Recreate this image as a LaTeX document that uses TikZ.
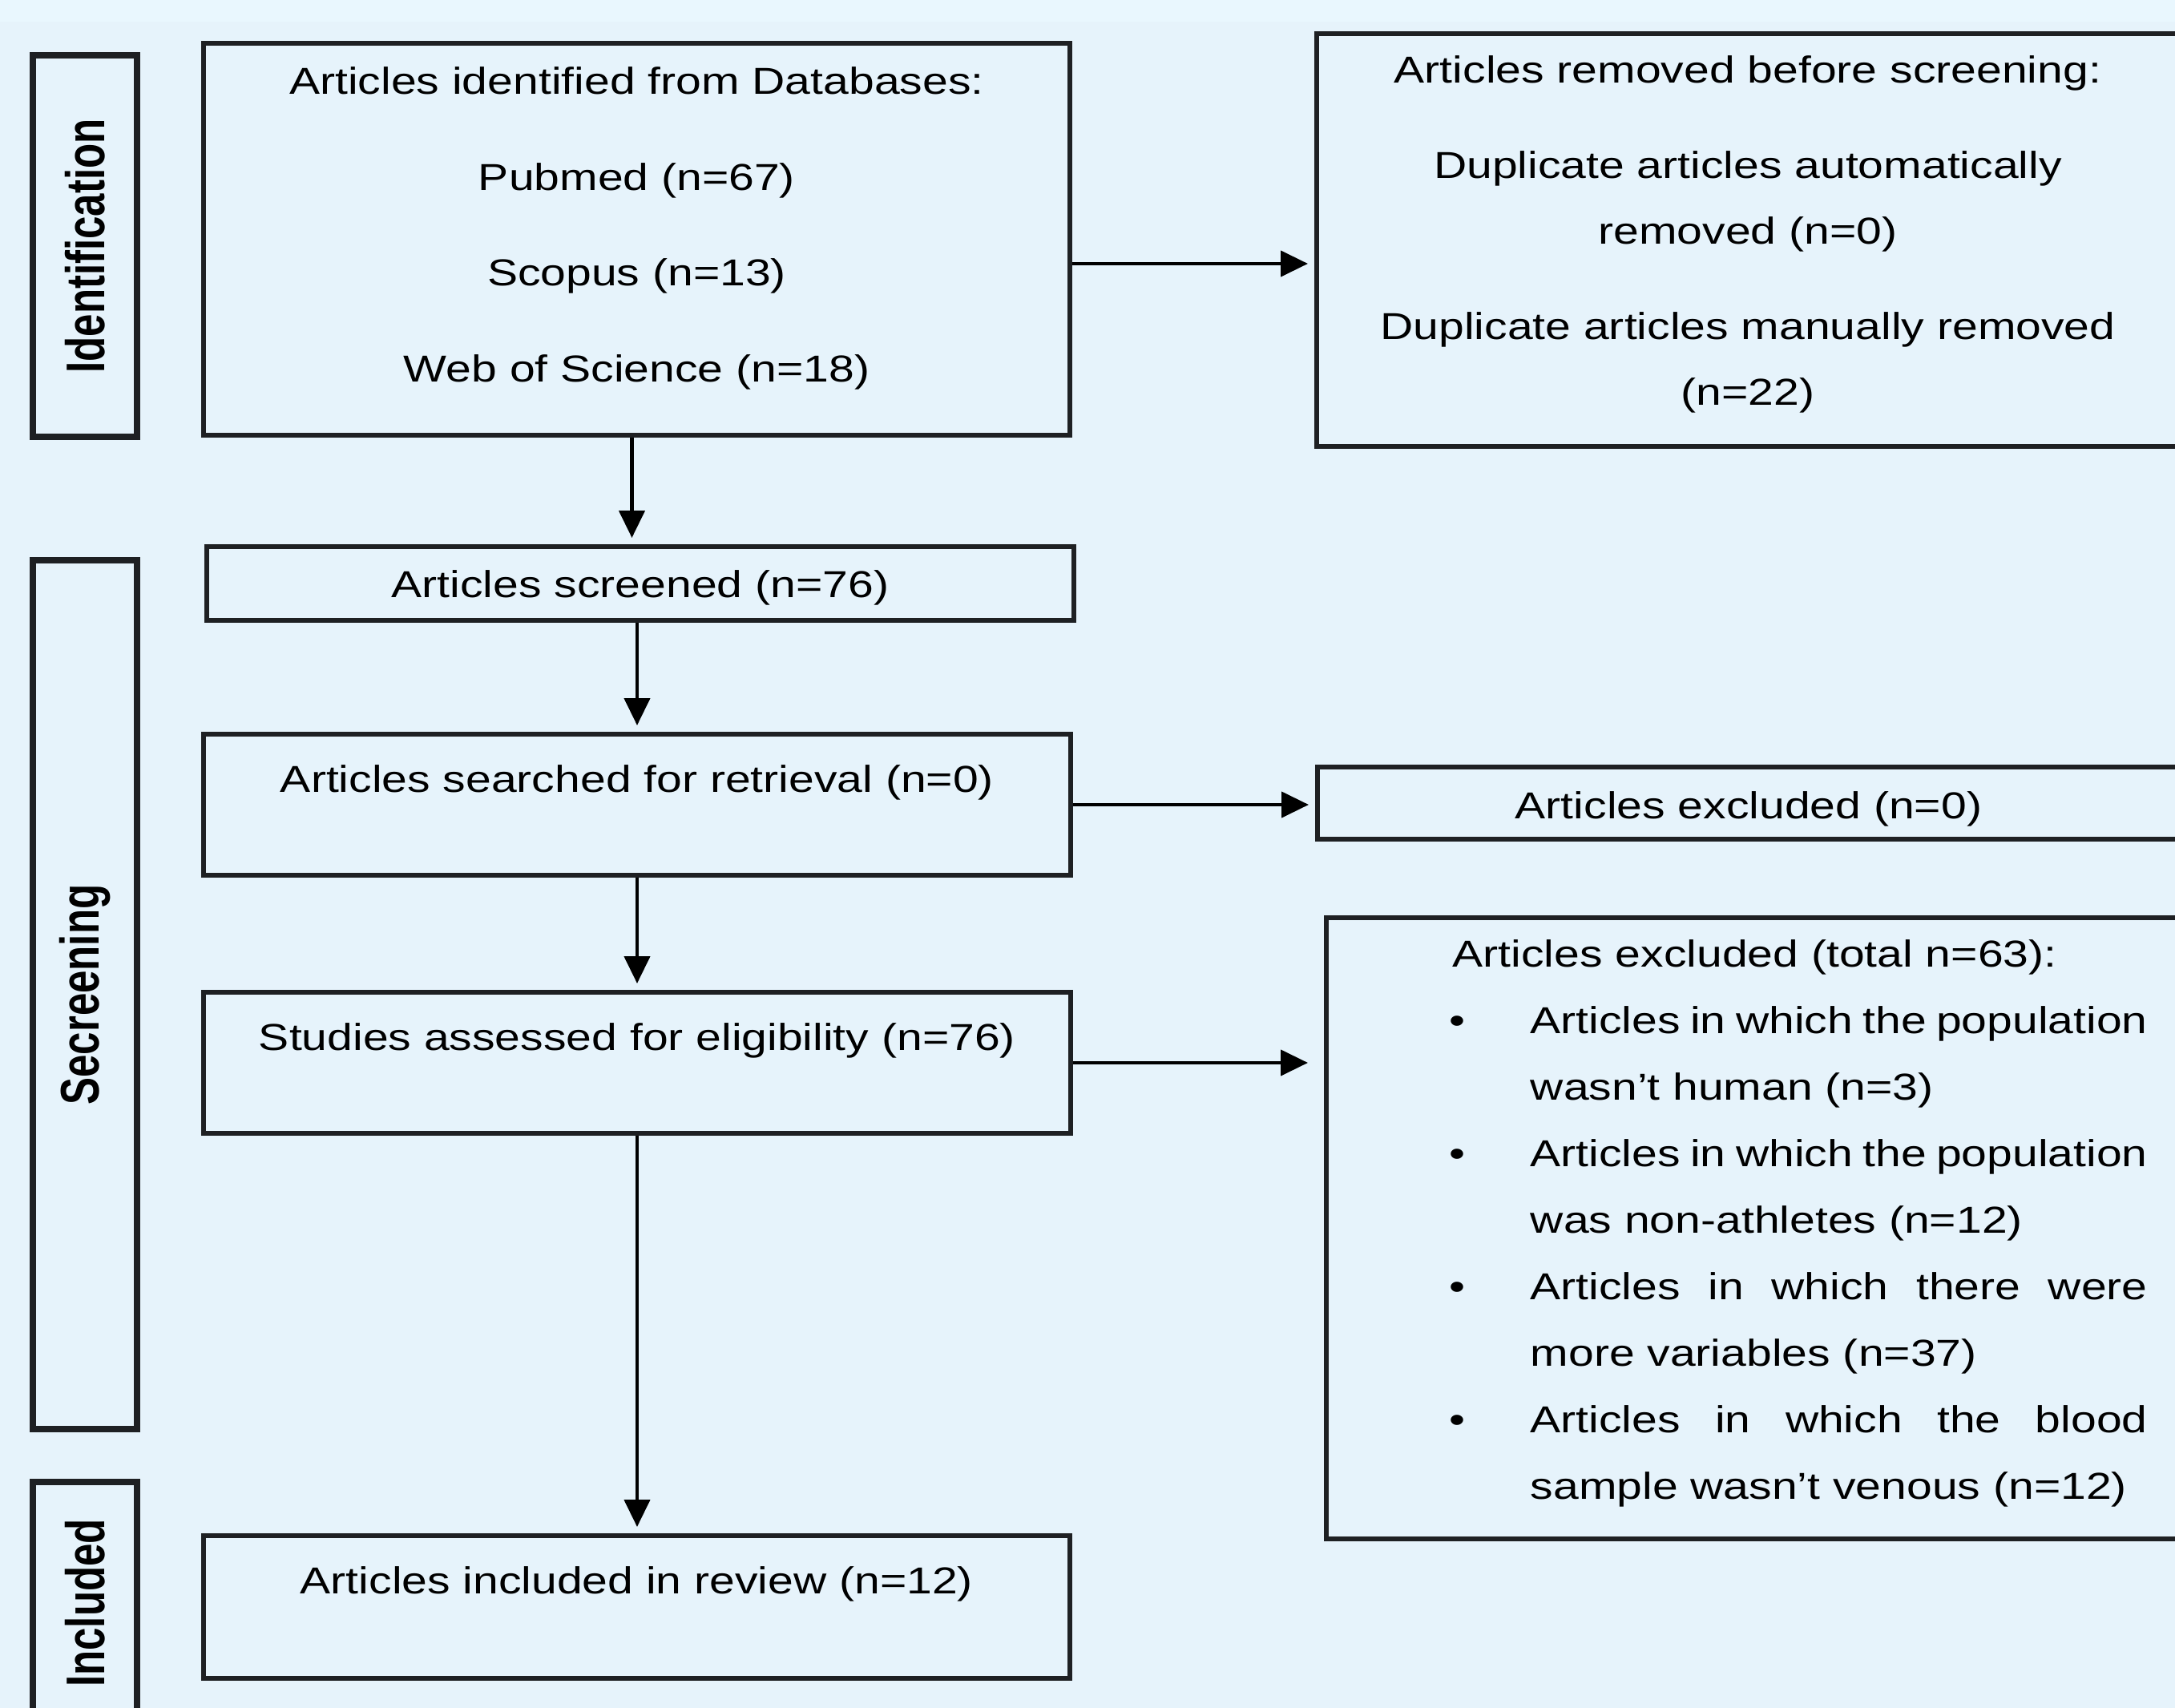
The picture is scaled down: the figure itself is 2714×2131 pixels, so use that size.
\documentclass[tikz,border=0pt]{standalone}
\usepackage{fontspec}
\setmainfont{Liberation Sans}[FakeStretch=1.22]
\newfontfamily\sidefont{Liberation Sans}[FakeStretch=0.75]
\usetikzlibrary{arrows.meta}
\definecolor{bgblue}{RGB}{230,243,251}
\definecolor{bgtop}{RGB}{233,247,254}
\definecolor{boxline}{RGB}{30,32,35}
\newcommand{\exbullet}{\makebox[25.25pt][l]{\textbullet}}

\begin{document}
\begin{tikzpicture}[x=0.25pt,y=-0.25pt,
  box/.style={draw=boxline,line width=1.5pt,inner sep=0pt},
  side/.style={draw=boxline,line width=2pt,rotate=90,minimum height=32.5pt,inner sep=0pt,
    font=\sidefont\bfseries\fontsize{17}{20}\selectfont},
  txt/.style={inner sep=0pt,align=center,font=\fontsize{11.7}{20.5}\selectfont},
  arr/.style={line width=1.1pt,-{Triangle[length=8.5pt,width=8pt]},shorten >=2pt}]
\useasboundingbox (0,0) rectangle (2714,2131);
%Background
\fill[bgblue] (0,0) rectangle (2714,2131);
\fill[bgtop] (0,0) rectangle (2714,27);

%Side labels
\node[side,minimum width=119pt] (identside) at (106,307) {Identification};
\node[side,minimum width=271pt] (screenside) at (106,1241) {Secreening};
\node[side,minimum width=75.5pt] (inclside) at (106,2000) {Included};

%Rect: identification
\node[box,minimum width=270.25pt,minimum height=122.25pt] (ident) at (794.5,298.5) {};
% Text Node
\node[txt,font=\fontsize{11.7}{29.9}\selectfont] (identtxt) at (794.5,285) {Articles identified from Databases:\\Pubmed (n=67)\\Scopus (n=13)\\Web of Science (n=18)};

%Rect: removed before screening
\node[box,minimum width=269.25pt,minimum height=128.75pt] (removed) at (2181.5,299.5) {};
% Text Node
\node[txt] (removedtxt) at (2181,292.5) {Articles removed before screening:\\[9.3pt]Duplicate articles automatically\\removed (n=0)\\[9.3pt]Duplicate articles manually removed\\(n=22)};

%Rect: screened
\node[box,txt,minimum width=270.5pt,minimum height=23pt,text height=11pt,text depth=2.5pt] (screen) at (799,728) {Articles screened (n=76)};

%Rect: searched for retrieval
\node[box,minimum width=270.5pt,minimum height=44pt] (search) at (795,1004) {};
% Text Node
\node[txt,anchor=base] (searchtxt) at (795,988) {Articles searched for retrieval (n=0)};

%Rect: excluded (n=0)
\node[box,txt,minimum width=269pt,minimum height=22.5pt,text height=12pt,text depth=2.5pt] (exclA) at (2182,1002) {Articles excluded (n=0)};

%Rect: assessed for eligibility
\node[box,minimum width=270.5pt,minimum height=44pt] (elig) at (795,1326) {};
% Text Node
\node[txt,anchor=base] (eligtxt) at (795,1310) {Studies assessed for eligibility (n=76)};

%Rect: excluded (total)
\node[box,minimum width=266.25pt,minimum height=193.75pt] (exclB) at (2187.5,1532.5) {};
% Text Node
\node[txt,align=left,anchor=north west,font=\fontsize{11.7}{20.75}\selectfont] (exclBtxt) at (1808,1172) {%
\hspace*{1pt}Articles excluded (total n=63):\\
\exbullet\makebox[192.5pt][s]{Articles in which the population}\\
\hspace*{25.25pt}wasn't human (n=3)\\
\exbullet\makebox[192.5pt][s]{Articles in which the population}\\
\hspace*{25.25pt}was non-athletes (n=12)\\
\exbullet\makebox[192.5pt][s]{Articles in which there were}\\
\hspace*{25.25pt}more variables (n=37)\\
\exbullet\makebox[192.5pt][s]{Articles in which the blood}\\
\hspace*{25.25pt}sample wasn't venous (n=12)};

%Rect: included in review
\node[box,minimum width=270.25pt,minimum height=44.5pt] (incl) at (794.5,2005) {};
% Text Node
\node[txt,anchor=base] (incltxt) at (794.5,1988) {Articles included in review (n=12)};

% Connection
\draw[arr] (ident.east |- 0,329) -- (removed.west |- 0,329);
\draw[arr] ([xshift=-1.5pt]ident.south) -- ([xshift=-1.5pt]ident.south |- screen.north);
\draw[arr] (search.north |- screen.south) -- (search.north);
\draw[arr] (search.east) -- (search.east -| exclA.west);
\draw[arr] (search.south) -- (elig.north);
\draw[arr] (elig.east) -- (elig.east -| removed.west);
\draw[arr] (elig.south) -- (elig.south |- incl.north);
\end{tikzpicture}
\end{document}
